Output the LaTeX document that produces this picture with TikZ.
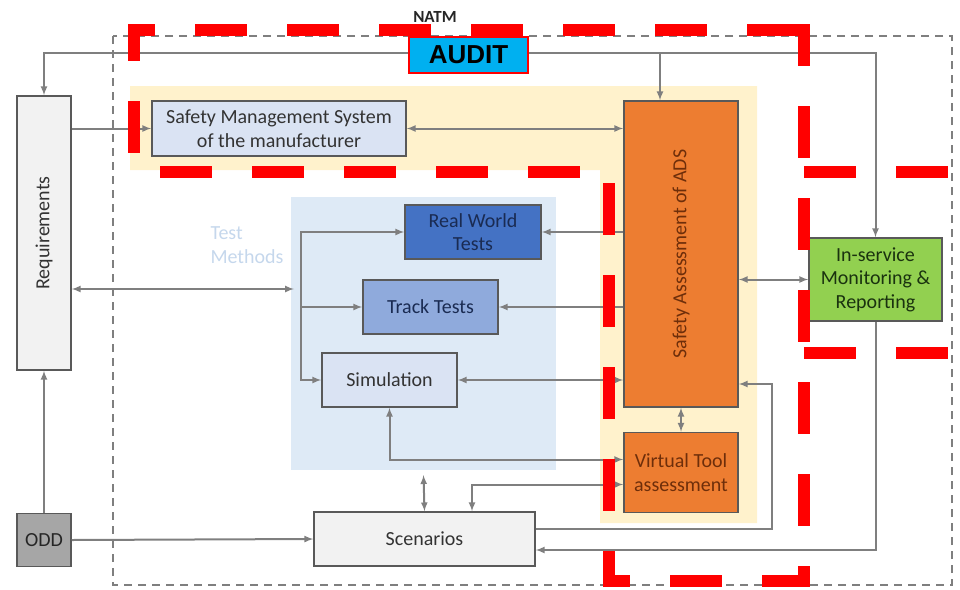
\documentclass[tikz,border=0pt]{standalone}
\usepackage{graphicx}
\usepackage{fontspec}
\setmainfont{Carlito}
\newfontfamily\auditfont{Liberation Sans}
\usetikzlibrary{arrows, positioning}
\definecolor{mgray}{HTML}{7F7F7F}
\definecolor{mdark}{HTML}{595959}
\definecolor{morange}{HTML}{ED7D31}
\definecolor{mbrown}{HTML}{6E2E0A}
\definecolor{mpale}{HTML}{FFF2CC}
\definecolor{mice}{HTML}{DEEAF6}
\definecolor{mlav}{HTML}{DAE3F3}
\definecolor{mblue}{HTML}{4472C4}
\definecolor{msky}{HTML}{8FAADC}
\definecolor{mnavy}{HTML}{1A2B52}
\definecolor{mgreen}{HTML}{92D050}
\definecolor{mleaf}{HTML}{1A320F}
\definecolor{mlight}{HTML}{F2F2F2}
\definecolor{mstone}{HTML}{A6A6A6}
\definecolor{mtext}{HTML}{333333}
\definecolor{mcyan}{HTML}{00B0F0}
\definecolor{mfaint}{HTML}{C5D7EC}
\tikzstyle{block} = [rectangle, draw=mdark, line width=1.5pt, inner sep=2pt, text centered, text=mtext]
\tikzstyle{cable} = [line width=2pt, draw=mgray, ->, >=latex]
\tikzstyle{usb} = [line width=2pt, draw=mgray, <->, >=latex]
\tikzstyle{auditline} = [draw=red, line width=12pt, line cap=rect, dash pattern=on 40pt off 52pt]

\begin{document}
\begin{tikzpicture}[x=1pt, y=-1pt, align=center, node distance=24pt, font=\fontsize{20}{23.5}\selectfont]
  \useasboundingbox (0,0) rectangle (960,589);
  % backgrounds
  \fill [mpale] (130,86) -- (757,86) -- (757,523) -- (600,523) -- (600,170) -- (130,170) -- cycle;
  \node (tmarea) [rectangle, fill=mice, minimum width=265pt, minimum height=273pt, inner sep=0pt] at (423.5,333.5) {};
  \node (tmlabel) [anchor=west, align=left, text=mfaint] at (207,245) {Test\\Methods};
  % NATM frame
  \draw [mgray, line width=1.5pt, dash pattern=on 8pt off 6pt] (113,36) rectangle (952,585);
  \node (natm) [text=black!85] at (435,17) {\fontsize{17}{20}\selectfont\bfseries NATM};
  % boxes
  \node (req) [block, fill=mlight, minimum width=54pt, minimum height=274pt] at (44,233) {\rotatebox{90}{Requirements}};
  \node (odd) [block, fill=mstone, text=black!85, minimum width=54pt, minimum height=53pt, below=142pt of req] {ODD};
  \node (sms) [block, fill=mlav, minimum width=254pt, minimum height=55pt] at (279,128.5) {Safety Management System\\of the manufacturer};
  \node (sa) [block, fill=morange, text=mbrown, minimum width=114pt, minimum height=306pt] at (681,254) {\rotatebox{90}{Safety Assessment of ADS}};
  \node (vt) [block, fill=morange, text=mbrown, minimum width=114pt, minimum height=80pt, below=of sa] {Virtual Tool\\assessment};
  \node (rwt) [block, fill=mblue, text=mnavy, minimum width=136pt, minimum height=54pt] at (473,232) {Real World\\Tests};
  \node (tt) [block, fill=msky, text=mnavy, minimum width=135pt, minimum height=54pt] at (430.5,307) {Track Tests};
  \node (sim) [block, fill=mlav, minimum width=135pt, minimum height=54pt] at (389.5,380) {Simulation};
  \node (scen) [block, fill=mlight, minimum width=221pt, minimum height=54pt] at (424.5,539) {Scenarios};
  \node (isr) [block, fill=mgreen, text=mleaf, minimum width=133pt, minimum height=83pt] at (875.5,279.5) {In-service\\Monitoring \&\\Reporting};
  % audit rail
  \coordinate (rail) at (468,53);
  \coordinate (sabranch) at ([xshift=-21pt]sa.north);
  \draw [cable] (rail) -| (req.north);
  \draw [cable] (rail) -| (isr.north);
  \draw [cable] (sabranch |- rail) -- (sabranch);
  % links
  \draw [cable] (req.east |- sms.west) -- (sms.west);
  \draw [usb] (sms.east) -- (sms.east -| sa.west);
  \coordinate (busin) at (294,289);
  \coordinate (bus) at (301,307);
  \draw [usb] (req.east |- busin) -- (busin);
  \draw [cable] (bus) -- (tt.west);
  \draw [cable] (bus) |- (rwt.west);
  \draw [cable] (bus) |- (sim.west);
  \draw [cable] (sa.west |- rwt.east) -- (rwt.east);
  \draw [cable] (sa.west |- tt.east) -- (tt.east);
  \draw [usb] (sa.west |- sim.east) -- (sim.east);
  \draw [usb] (sa.east |- isr.west) -- (isr.west);
  \draw [usb] (sa.south) -- (vt.north);
  \draw [usb] (sim.south) |- ([yshift=13pt]vt.west);
  \draw [usb] (scen.north) -- ([yshift=-5pt]tmarea.south);
  \draw [usb] ([xshift=47.5pt]scen.north) |- ([yshift=-12pt]vt.west);
  \coordinate (loop) at (772,384);
  \draw [cable] ([yshift=10pt]scen.east) -| (loop) -- (sa.east |- loop);
  \draw [cable] (isr.south) |- ([yshift=-11pt]scen.east);
  \draw [cable] (odd.north) -- (req.south);
  \draw [cable] (odd.east) -- (scen.west);
  % audit scope
  \draw [auditline, dash phase=25pt] (134,30) -- (804,30);
  \draw [auditline, dash phase=10pt] (804,30) -- (804,581);
  \draw [auditline, dash phase=4pt] (804,581) -- (609,581);
  \draw [auditline, dash phase=16pt] (609,581) -- (609,172);
  \draw [auditline, dash phase=57pt] (609,172) -- (134,172);
  \draw [auditline, dash phase=67pt] (134,172) -- (134,30);
  \draw [auditline] (810,172) -- (950,172);
  \draw [auditline] (810,353) -- (950,353);
  \node (audit) [rectangle, draw=red, line width=1.5pt, fill=mcyan, minimum width=119pt, minimum height=36pt, inner sep=0pt] at (468.5,55) {\auditfont\fontsize{26}{30}\selectfont\bfseries AUDIT};
\end{tikzpicture}
\end{document}
